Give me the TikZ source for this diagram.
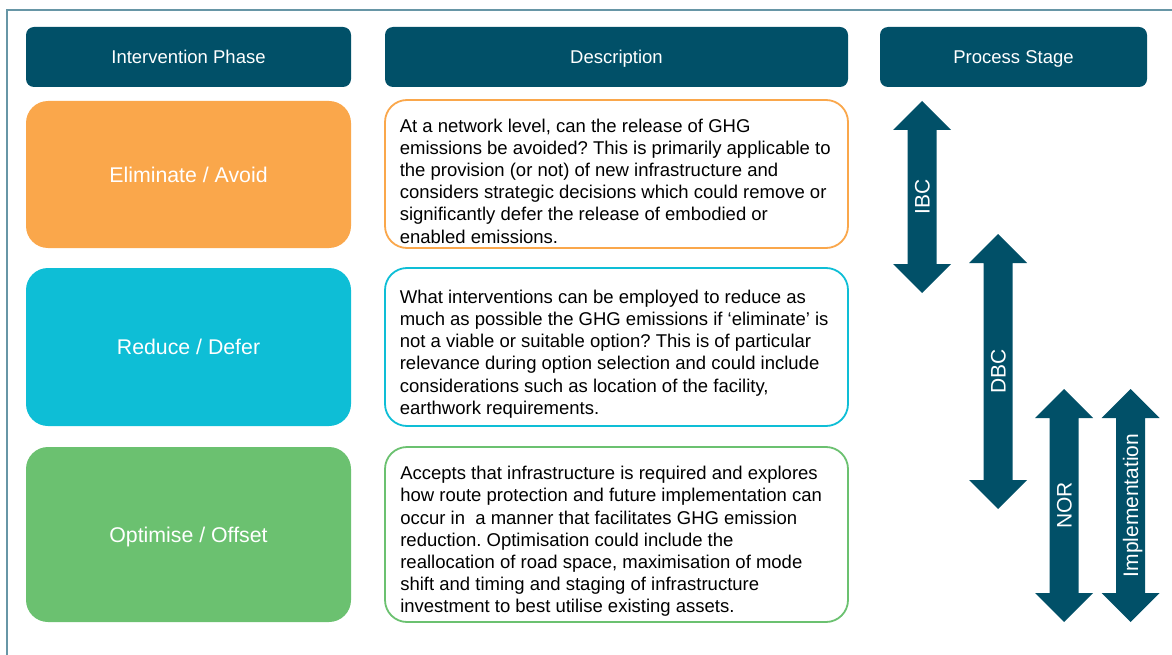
\documentclass[tikz,border=0pt]{standalone}
\usepackage{fontspec}
\setmainfont{Liberation Sans}
\frenchspacing
\definecolor{teal}{HTML}{015068}
\definecolor{elimcol}{HTML}{FAA74B}
\definecolor{reducecol}{HTML}{0EBED6}
\definecolor{optcol}{HTML}{6BC170}
\definecolor{framecol}{HTML}{6796A6}

% double-headed stage arrow: name, centre x, top tip y, bottom tip y, label
\newcommand\stagearrow[5]{%
  \fill[teal] (#2,#3) -- ++(29,29) -- ++(-14.5,0) -- (#2+14.5,#4-29) -- ++(14.5,0)
    -- (#2,#4) -- ++(-29,-29) -- ++(14.5,0) -- (#2-14.5,#3+29) -- ++(-14.5,0) -- cycle;
  \node[arrowlabel] (#1) at (#2,{(#3+#4)/2}) {#5};
}

\tikzset{
  header/.style={fill=teal, rounded corners=8pt, minimum height=60pt, text=white,
    font=\fontsize{18.5}{22}\selectfont, inner sep=0pt,
    text height=13.25pt, text depth=0pt},
  phase/.style={rounded corners=22pt, minimum width=325pt, text=white,
    font=\fontsize{21.3}{25}\selectfont, inner sep=0pt,
    text height=15.25pt, text depth=0pt},
  descbox/.style={draw, line width=1.8pt, fill=white, rounded corners=22pt,
    minimum width=463pt, inner sep=0pt},
  desctext/.style={anchor=west, align=left, inner sep=0pt,
    font=\fontsize{18.5}{22.2}\selectfont},
  arrowlabel/.style={rotate=90, text=white, inner sep=0pt,
    font=\fontsize{21}{25}\selectfont, text height=15pt, text depth=0pt},
}

\begin{document}
\begin{tikzpicture}[x=1pt, y=-1pt]
\useasboundingbox (0,0) rectangle (1172,655);

% outer frame
\draw[framecol, line width=1.5pt] (7,655) -- (7,10) -- (1172,10);

% column headers
\node[header, minimum width=325pt] (h1) at (188.5,57) {Intervention Phase};
\node[header, minimum width=463pt] (h2) at (616.5,57) {Description};
\node[header, minimum width=267pt] (h3) at (1013.5,57) {Process Stage};

% intervention phases
\node[phase, fill=elimcol, minimum height=147pt] (p1) at (188.5,174.5) {Eliminate / Avoid};
\node[phase, fill=reducecol, minimum height=158pt] (p2) at (188.5,347) {Reduce / Defer};
\node[phase, fill=optcol, minimum height=175pt] (p3) at (188.5,534.5) {Optimise / Offset};

% descriptions
\node[descbox, draw=elimcol, minimum height=148pt] (d1) at (616.5,174) {};
\node[desctext] (t1) at ([xshift=15.5pt,yshift=-7pt]d1.west) {At a network level, can the release of GHG\\
emissions be avoided? This is primarily applicable to\\
the provision (or not) of new infrastructure and\\
considers strategic decisions which could remove or\\
significantly defer the release of embodied or\\
enabled emissions.};

\node[descbox, draw=reducecol, minimum height=158pt] (d2) at (616.5,347) {};
\node[desctext] (t2) at ([xshift=15.5pt,yshift=-7pt]d2.west) {What interventions can be employed to reduce as\\
much as possible the GHG emissions if ‘eliminate’ is\\
not a viable or suitable option? This is of particular\\
relevance during option selection and could include\\
considerations such as location of the facility,\\
earthwork requirements.};

\node[descbox, draw=optcol, minimum height=175pt] (d3) at (616.5,534.5) {};
\node[desctext] (t3) at ([xshift=16pt,yshift=-7pt]d3.west) {Accepts that infrastructure is required and explores\\
how route protection and future implementation can\\
occur in \ a manner that facilitates GHG emission\\
reduction. Optimisation could include the\\
reallocation of road space, maximisation of mode\\
shift and timing and staging of infrastructure\\
investment to best utilise existing assets.};

% process stages
\stagearrow{ibc}{922}{101}{293}{IBC}
\stagearrow{dbc}{998}{234}{509}{DBC}
\stagearrow{nor}{1064}{389}{622}{NOR}
\stagearrow{impl}{1130.5}{389}{622}{Implementation}
\end{tikzpicture}
\end{document}
